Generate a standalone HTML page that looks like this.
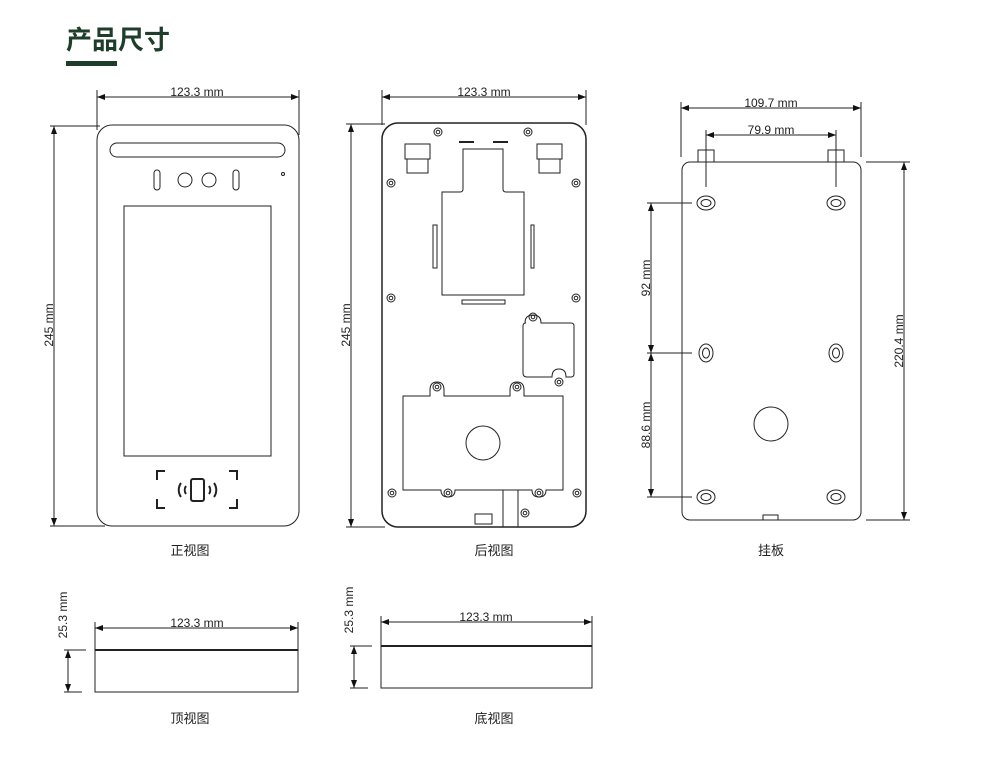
<!DOCTYPE html>
<html><head><meta charset="utf-8"><style>
html,body{margin:0;padding:0;background:#fff;}
svg{display:block;}
text{font-family:"Liberation Sans","Noto Sans CJK SC",sans-serif;fill:#222;}
</style></head><body>
<svg width="989" height="784" viewBox="0 0 989 784" xmlns="http://www.w3.org/2000/svg">
<defs>
<marker id="a" markerWidth="8" markerHeight="6" refX="8" refY="3" orient="auto-start-reverse" markerUnits="userSpaceOnUse"><path d="M0,0 L8,3 L0,6z" fill="#111"/></marker>
<g id="scr"><circle r="4" fill="none" stroke="#222" stroke-width="1"/><circle r="1.8" fill="none" stroke="#222" stroke-width="1"/></g>
</defs>
<text x="66" y="49" font-size="26" style="fill:#1f3d2b;font-weight:bold">产品尺寸</text>
<rect x="66" y="61" width="51" height="5" fill="#1f3d2b"/>

<g fill="none" stroke="#222" stroke-width="1">
<!-- FRONT -->
<rect x="97" y="125" width="202" height="401" rx="15"/>
<rect x="110" y="143" width="175" height="14" rx="7"/>
<rect x="154" y="170" width="6" height="20" rx="3"/>
<rect x="233" y="170" width="6" height="20" rx="3"/>
<circle cx="185" cy="180" r="7"/><circle cx="209" cy="180" r="7"/>
<circle cx="283" cy="174" r="1.5"/>
<rect x="124" y="206" width="147" height="250"/>
<g stroke-width="2"><path d="M157,480 v-9 h8 M229,471 h8 v9 M157,499 v9 h8 M229,508 h8 v-9"/>
<rect x="191" y="479" width="13" height="22" rx="2"/>
<path d="M181,483 a12,12 0 0 0 0,14 M186,486 a7,7 0 0 0 0,8 M214,483 a12,12 0 0 1 0,14 M209,486 a7,7 0 0 1 0,8"/></g>
<line x1="97" y1="90" x2="97" y2="130"/><line x1="299" y1="90" x2="299" y2="135"/>
<line x1="97" y1="97" x2="299" y2="97" marker-start="url(#a)" marker-end="url(#a)"/>
<line x1="50" y1="126" x2="100" y2="126"/><line x1="50" y1="526" x2="105" y2="526"/>
<line x1="54" y1="126" x2="54" y2="526" marker-start="url(#a)" marker-end="url(#a)"/>

<!-- BACK -->
<rect x="382" y="123" width="204" height="404" rx="16" stroke-width="1.5"/>
<path d="M459,142h15M493,142h15" stroke-width="2"/>
<rect x="405" y="144" width="25" height="15"/><rect x="407" y="159" width="21" height="14"/>
<rect x="537" y="144" width="25" height="15"/><rect x="539" y="159" width="21" height="14"/>
<path d="M463,149 h40 v40 q0,3 3,3 h18 v103 h-82 v-103 h18 q3,0 3,-3z"/>
<rect x="433" y="225" width="4" height="43"/><rect x="531" y="225" width="3" height="43"/>
<rect x="462" y="300" width="43" height="4"/>
<path d="M525,323 q0,-8 8,-8 q8,0 8,8 h30 q3,0 3,3 v48 q0,3 -3,3 h-5 q0,-8 -7,-8 q-7,0 -7,8 h-25 q-4,0 -4,-4 v-47 q0,-3 3,-3z"/>
<path d="M403,396 h27 v-6 q0,-8 7,-8 q7,0 7,8 v6 h66 v-6 q0,-8 7,-8 q7,0 7,8 v6 h39 v94 h-17 q0,7 -7,7 q-7,0 -7,-7 h-77 q0,7 -7,7 q-7,0 -7,-7 h-38 z"/>
<circle cx="483" cy="443" r="17"/>
<path d="M503,490 v37 M518,490 v37"/>
<rect x="475" y="514" width="17" height="10"/>
<line x1="382" y1="90" x2="382" y2="125"/><line x1="586" y1="90" x2="586" y2="125"/>
<line x1="382" y1="97" x2="586" y2="97" marker-start="url(#a)" marker-end="url(#a)"/>
<line x1="346" y1="124" x2="385" y2="124"/><line x1="346" y1="527" x2="385" y2="527"/>
<line x1="351" y1="124" x2="351" y2="527" marker-start="url(#a)" marker-end="url(#a)"/>

<!-- HANGER -->
<rect x="682" y="162" width="179" height="358" rx="8"/>
<rect x="698" y="150" width="16" height="12"/><rect x="828" y="150" width="16" height="12"/>
<path d="M763,520 v-5 h15 v5"/>
<circle cx="771" cy="424" r="17"/>
<line x1="681" y1="102" x2="681" y2="157"/><line x1="861" y1="102" x2="861" y2="157"/>
<line x1="681" y1="108" x2="861" y2="108" marker-start="url(#a)" marker-end="url(#a)"/>
<line x1="706" y1="130" x2="706" y2="187"/><line x1="836" y1="130" x2="836" y2="187"/>
<line x1="706" y1="135" x2="836" y2="135" marker-start="url(#a)" marker-end="url(#a)"/>
<line x1="866" y1="162" x2="910" y2="162"/><line x1="866" y1="520" x2="910" y2="520"/>
<line x1="904" y1="162" x2="904" y2="520" marker-start="url(#a)" marker-end="url(#a)"/>
<line x1="647" y1="203" x2="692" y2="203"/><line x1="647" y1="353" x2="692" y2="353"/><line x1="647" y1="497" x2="692" y2="497"/>
<line x1="651" y1="203" x2="651" y2="353" marker-start="url(#a)" marker-end="url(#a)"/>
<line x1="651" y1="353" x2="651" y2="497" marker-start="url(#a)" marker-end="url(#a)"/>

<!-- TOP VIEW -->
<rect x="95" y="650" width="203" height="42"/>
<line x1="95" y1="650" x2="298" y2="650" stroke-width="2"/>
<line x1="95" y1="622" x2="95" y2="650"/><line x1="298" y1="622" x2="298" y2="650"/>
<line x1="95" y1="628" x2="298" y2="628" marker-start="url(#a)" marker-end="url(#a)"/>
<line x1="64" y1="650" x2="86" y2="650"/><line x1="64" y1="692" x2="82" y2="692"/>
<line x1="68" y1="650" x2="68" y2="692" marker-start="url(#a)" marker-end="url(#a)"/>

<!-- BOTTOM VIEW -->
<rect x="381" y="646" width="211" height="42"/>
<line x1="381" y1="646" x2="592" y2="646" stroke-width="2"/>
<line x1="381" y1="616" x2="381" y2="646"/><line x1="592" y1="616" x2="592" y2="646"/>
<line x1="381" y1="622" x2="592" y2="622" marker-start="url(#a)" marker-end="url(#a)"/>
<line x1="350" y1="646" x2="372" y2="646"/><line x1="350" y1="688" x2="368" y2="688"/>
<line x1="354" y1="646" x2="354" y2="688" marker-start="url(#a)" marker-end="url(#a)"/>
</g>

<g>
<use href="#scr" x="438" y="132"/><use href="#scr" x="528" y="132"/>
<use href="#scr" x="391" y="183"/><use href="#scr" x="576" y="183"/>
<use href="#scr" x="391" y="298"/><use href="#scr" x="576" y="298"/>
<use href="#scr" x="533" y="317"/><use href="#scr" x="559" y="382"/>
<use href="#scr" x="437" y="387"/><use href="#scr" x="517" y="387"/>
<use href="#scr" x="392" y="493"/><use href="#scr" x="448" y="493"/>
<use href="#scr" x="539" y="493"/><use href="#scr" x="577" y="493"/>
<use href="#scr" x="525" y="513"/>
</g>
<g fill="none" stroke="#222" stroke-width="1">
<ellipse cx="706" cy="203" rx="9" ry="7"/><ellipse cx="706" cy="203" rx="5" ry="3.5"/>
<ellipse cx="836" cy="203" rx="9" ry="7"/><ellipse cx="836" cy="203" rx="5" ry="3.5"/>
<ellipse cx="706" cy="353" rx="7" ry="9"/><ellipse cx="706" cy="353" rx="3.5" ry="5"/>
<ellipse cx="836" cy="353" rx="7" ry="9"/><ellipse cx="836" cy="353" rx="3.5" ry="5"/>
<ellipse cx="706" cy="497" rx="9" ry="7"/><ellipse cx="706" cy="497" rx="5" ry="3.5"/>
<ellipse cx="836" cy="497" rx="9" ry="7"/><ellipse cx="836" cy="497" rx="5" ry="3.5"/>
</g>

<g font-size="12" text-anchor="middle">
<text x="197" y="96">123.3 mm</text>
<text x="484" y="96">123.3 mm</text>
<text x="771" y="107">109.7 mm</text>
<text x="771" y="134">79.9 mm</text>
<text x="197" y="627">123.3 mm</text>
<text x="486" y="621">123.3 mm</text>
<text transform="translate(53,325) rotate(-90)">245 mm</text>
<text transform="translate(350,325) rotate(-90)">245 mm</text>
<text transform="translate(903,341) rotate(-90)">220.4 mm</text>
<text transform="translate(650,278) rotate(-90)">92 mm</text>
<text transform="translate(650,425) rotate(-90)">88.6 mm</text>
<text transform="translate(67,615) rotate(-90)">25.3 mm</text>
<text transform="translate(353,610) rotate(-90)">25.3 mm</text>
</g>
<g font-size="13" text-anchor="middle">
<text x="190" y="555">正视图</text>
<text x="494" y="555">后视图</text>
<text x="771" y="555">挂板</text>
<text x="190" y="723">顶视图</text>
<text x="494" y="723">底视图</text>
</g>
</svg>
</body></html>
